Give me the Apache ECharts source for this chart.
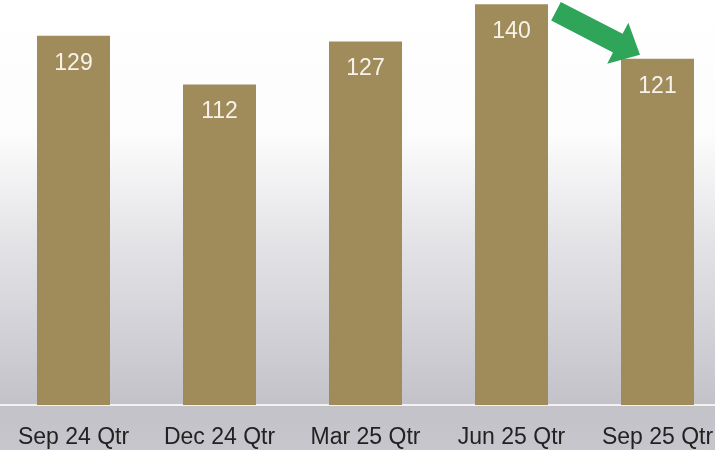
<!DOCTYPE html>
<html>
<head>
<meta charset="utf-8">
<script src="https://cdn.jsdelivr.net/npm/echarts@6/dist/echarts.min.js"></script>
<style>
html,body{margin:0;padding:0;background:#fff;overflow:hidden;width:715px;height:450px;}
#c{width:731px;height:450px;}
</style>
</head>
<body>
<div id="c"></div>
<script>
var categories = ['Sep 24 Qtr', 'Dec 24 Qtr', 'Mar 25 Qtr', 'Jun 25 Qtr', 'Sep 25 Qtr'];
var values = [129, 112, 127, 140, 121];

var chart = echarts.init(document.getElementById('c'), null, {renderer: 'canvas'});
var option = {
  animation: false,
  backgroundColor: {
    type: 'linear', x: 0, y: 0, x2: 0, y2: 1,
    colorStops: [
      {offset: 0, color: '#ffffff'},
      {offset: 0.3, color: '#fcfcfc'},
      {offset: 0.55, color: '#e2e2e6'},
      {offset: 0.9, color: '#c3c2c9'},
      {offset: 1, color: '#c7c6cc'}
    ]
  },
  grid: {left: 0.5, right: 0.5, top: 0, bottom: 45, containLabel: false},
  xAxis: {
    type: 'category',
    data: categories,
    axisTick: {show: false},
    axisLine: {lineStyle: {color: '#f2f2f5', width: 2}},
    axisLabel: {
      interval: 0,
      margin: 21,
      color: '#222222',
      fontSize: 23,
      fontFamily: '"Liberation Sans", Arial, sans-serif'
    }
  },
  yAxis: {
    type: 'value',
    min: 0,
    max: 141.5,
    show: false,
    splitLine: {show: false}
  },
  series: [{
    type: 'bar',
    data: values,
    barWidth: 73,
    itemStyle: {color: '#a08c5b'},
    label: {
      show: true,
      position: 'insideTop',
      distance: 16,
      color: '#f7f3ea',
      fontSize: 23,
      fontFamily: '"Liberation Sans", Arial, sans-serif'
    }
  }]
};
chart.setOption(option);

// Green arrow annotation anchored to bars 4 and 5
var p4 = chart.convertToPixel({seriesIndex: 0}, [3, values[3]]);
var p5 = chart.convertToPixel({seriesIndex: 0}, [4, values[4]]);
var tail = [p4[0] + 44.5, p4[1] + 7];
var tip = [p5[0] - 17.5, p5[1] - 4];
var dx = tip[0] - tail[0], dy = tip[1] - tail[1];
var len = Math.sqrt(dx * dx + dy * dy);
var ux = dx / len, uy = dy / len;
var nx = -uy, ny = ux;
var headLen = 25, headHalf = 23, shaftHalf = 10.5;
var base = [tip[0] - ux * headLen, tip[1] - uy * headLen];
var pts = [
  [tail[0] + nx * shaftHalf, tail[1] + ny * shaftHalf],
  [base[0] + nx * shaftHalf, base[1] + ny * shaftHalf],
  [base[0] + nx * headHalf, base[1] + ny * headHalf],
  tip,
  [base[0] - nx * headHalf, base[1] - ny * headHalf],
  [base[0] - nx * shaftHalf, base[1] - ny * shaftHalf],
  [tail[0] - nx * shaftHalf, tail[1] - ny * shaftHalf]
];
chart.setOption({
  graphic: [{
    type: 'polygon',
    shape: {points: pts},
    style: {fill: '#2fa55a'},
    z: 100
  }]
});
</script>
</body>
</html>
